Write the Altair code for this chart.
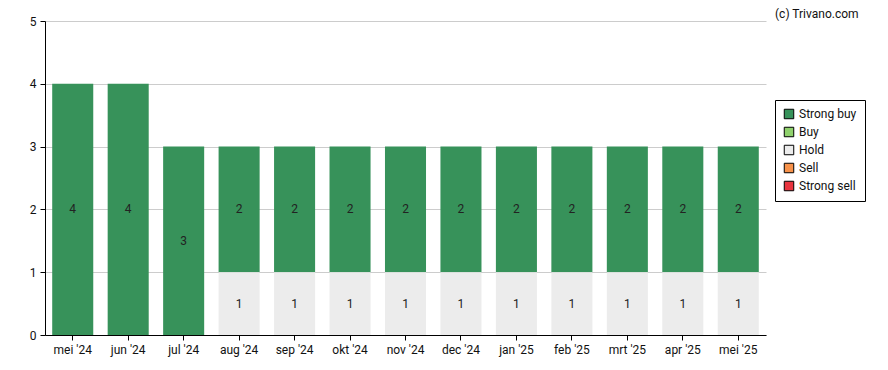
import altair as alt
import pandas as pd

months = ["mei '24", "jun '24", "jul '24", "aug '24", "sep '24", "okt '24", "nov '24",
          "dec '24", "jan '25", "feb '25", "mrt '25", "apr '25", "mei '25"]
strong_buy = [4, 4, 3, 2, 2, 2, 2, 2, 2, 2, 2, 2, 2]
buy = [0] * 13
hold = [0, 0, 0, 1, 1, 1, 1, 1, 1, 1, 1, 1, 1]
sell = [0] * 13
strong_sell = [0] * 13

categories = ["Strong buy", "Buy", "Hold", "Sell", "Strong sell"]
colors = ["#37925a", "#8fd16c", "#ececec", "#f7924a", "#e8343f"]
stack_rank = {"Strong sell": 0, "Sell": 1, "Hold": 2, "Buy": 3, "Strong buy": 4}

rows = []
for i, m in enumerate(months):
    for cat, series in zip(categories, [strong_buy, buy, hold, sell, strong_sell]):
        rows.append({"month": m, "cat": cat, "value": series[i], "rank": stack_rank[cat]})
df = pd.DataFrame(rows)

FONT = "Roboto"

base = alt.Chart(df).transform_stack(
    stack="value", groupby=["month"], as_=["y0", "y1"],
    sort=[alt.SortField("rank", order="ascending")]
).transform_calculate(mid="(datum.y0 + datum.y1) / 2")

x_enc = alt.X("month:N", sort=months, title=None,
              scale=alt.Scale(paddingInner=0.26, paddingOuter=0.13),
              axis=alt.Axis(labelAngle=0, domainColor="black", tickColor="black",
                            labelFont=FONT, labelFontSize=12, labelColor="#111",
                            labelPadding=4, tickSize=5))

bars = base.mark_bar().encode(
    x=x_enc,
    y=alt.Y("y0:Q", title=None,
            scale=alt.Scale(domain=[0, 5], nice=False),
            axis=alt.Axis(values=[0, 1, 2, 3, 4, 5], format="d", grid=True,
                          gridColor="#cccccc", domainColor="black", tickColor="black",
                          labelFont=FONT, labelFontSize=12, labelColor="#111",
                          labelPadding=4, tickSize=5)),
    y2="y1:Q",
    color=alt.Color("cat:N", scale=alt.Scale(domain=categories, range=colors),
                    legend=alt.Legend(title=None, orient="none", legendX=730, legendY=79,
                                      strokeColor="black", fillColor="white", padding=8,
                                      symbolType="square", symbolSize=90,
                                      symbolStrokeColor="black", symbolStrokeWidth=1,
                                      labelFont=FONT, labelFontSize=12, labelColor="#111",
                                      rowPadding=4, labelOffset=4)),
)

labels = base.transform_filter("datum.value > 0").mark_text(
    font=FONT, fontSize=12, color="#222"
).encode(
    x=alt.X("month:N", sort=months),
    y=alt.Y("mid:Q"),
    text=alt.Text("value:Q"),
)

credit = alt.Chart(pd.DataFrame({"t": ["(c) Trivano.com"]})).mark_text(
    font=FONT, fontSize=12, color="#111", align="left", baseline="top"
).encode(x=alt.value(730), y=alt.value(-12), text="t:N")

chart = alt.layer(bars, labels, credit).properties(
    width=721, height=314,
    autosize=alt.AutoSizeParams(type="none"),
    padding={"left": 37, "top": 13, "right": 114, "bottom": 26},
).configure_view(stroke=None).configure_axis(domainWidth=1)

chart.save("out.html", embed_options={"renderer": "svg", "actions": False})
